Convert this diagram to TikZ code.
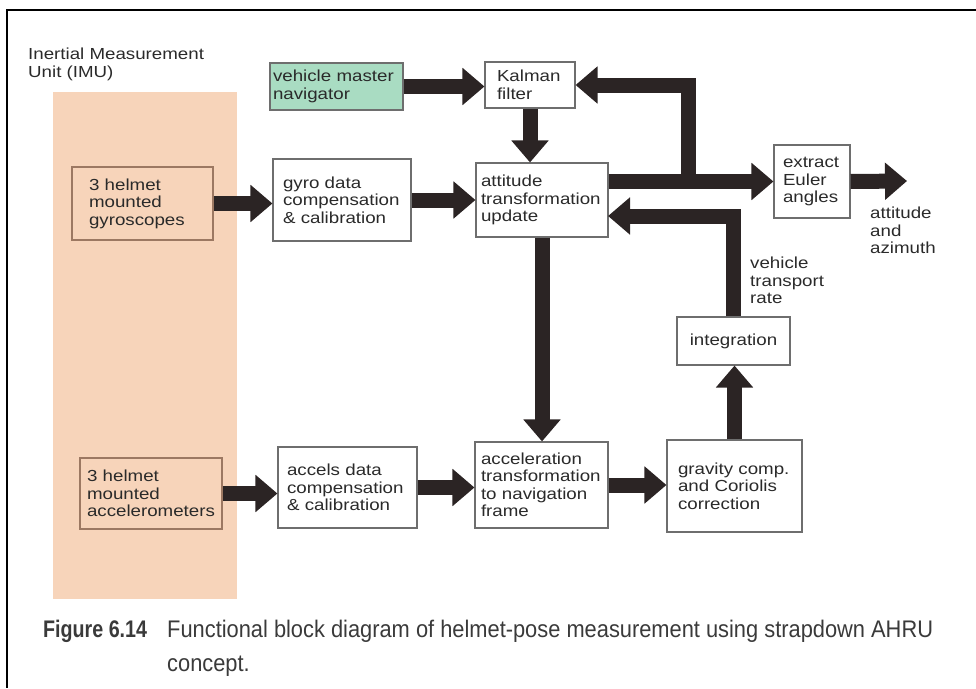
\documentclass[tikz,border=0pt]{standalone}
\usepackage{fontspec}
\setmainfont{Liberation Sans}[FakeStretch=1.17]
\newfontfamily\capfont{Liberation Sans}[FakeStretch=0.91]
\newfontfamily\capbold{Liberation Sans}[FakeStretch=0.82]
\usepackage{tikz}
\usetikzlibrary{arrows.meta}
\definecolor{imufill}{HTML}{F7D4BA}
\definecolor{navfill}{HTML}{A9DCC2}
\definecolor{arrowdark}{HTML}{2B2424}
\definecolor{boxline}{HTML}{6E6E6E}
\definecolor{imuline}{HTML}{9C7862}
\definecolor{inktext}{HTML}{2A2A2A}
\definecolor{captext}{HTML}{3A3A3A}

\begin{document}
\begin{tikzpicture}[x=1pt,y=-1pt,
    blk/.style={draw=boxline,line width=1.1pt,fill=white,align=left,inner ysep=2pt,
      text=inktext,font=\fontsize{16}{17.5}\selectfont},
    imublk/.style={blk,draw=imuline,fill=none},
    fat/.style={draw=arrowdark,line width=15pt,-{Triangle[length=22pt,width=36pt]}},
    lbl/.style={align=left,inner sep=0pt,text=inktext,font=\fontsize{16}{17.5}\selectfont},
    figcap/.style={anchor=north west,align=left,inner sep=0pt,text=captext,
      font=\capfont\fontsize{24}{34}\selectfont}]
      \useasboundingbox (0,0) rectangle (976,688);
      \draw[line width=2pt] (976,10) -- (7,10) -- (7,688);

      % IMU block
      \node (imu) at (145,345.5) [fill=imufill,minimum width=184pt,minimum height=507pt,inner sep=0pt] {};
      \node (imulabel) at (28,48) [lbl,anchor=north west] {Inertial Measurement\\Unit (IMU)};
      \node (gyros) at (142.5,203.5) [imublk,inner xsep=17pt,text width=107pt,minimum height=73pt] {3 helmet\\mounted\\gyroscopes};
      \node (accels) at (151,493.5) [imublk,inner xsep=7pt,text width=128pt,minimum height=71pt] {3 helmet\\mounted\\accelerometers};

      \node (vmn) at (336.5,86.5) [blk,fill=navfill,inner xsep=3pt,text width=127pt,minimum height=47pt] {vehicle master\\navigator};
      \node (kalman) at (530,85) [blk,inner xsep=12pt,text width=66pt,minimum height=46pt] {Kalman\\filter};
      \node (gyrocal) at (342,200) [blk,inner xsep=10pt,text width=118pt,minimum height=82pt] {gyro data\\compensation\\\& calibration};
      \node (att) at (542,200) [blk,inner xsep=5pt,text width=122pt,minimum height=74pt] {attitude\\transformation\\update};
      \node (euler) at (812,181.5) [blk,inner xsep=9pt,text width=58pt,minimum height=73pt] {extract\\Euler\\angles};
      \node (integ) at (733.5,341) [blk,align=center,inner xsep=6pt,text width=101pt,minimum height=48pt] {integration};
      \node (accelcal) at (347.5,487.5) [blk,inner xsep=9pt,text width=121pt,minimum height=81pt] {accels data\\compensation\\\& calibration};
      \node (acctr) at (541.5,485) [blk,inner xsep=6pt,text width=121pt,minimum height=86pt] {acceleration\\transformation\\to navigation\\frame};
      \node (grav) at (734.5,486) [blk,inner xsep=11pt,text width=113pt,minimum height=92pt] {gravity comp.\\and Coriolis\\correction};

      \node (azlabel) at (870,207) [lbl,anchor=north west] {attitude\\and\\azimuth};
      \node (ratelabel) at (750,257) [lbl,anchor=north west] {vehicle\\transport\\rate};

      \coordinate (split) at (688,182);
      \coordinate (azout) at (907,181);
      \coordinate (ratein) at (608,216);

      \draw[fat] (vmn.east) -- (vmn.east -| kalman.west);
      \draw[fat] (kalman.south) -- (kalman.south |- att.north);
      \draw[fat] (gyros.east) -- (gyros.east -| gyrocal.west);
      \draw[fat] (gyrocal.east) -- (gyrocal.east -| att.west);
      \draw[fat] (euler.west -| att.east) -- (euler.west);
      \draw[fat] (split) |- (kalman.east);
      \draw[fat] (euler.east) -- (azout);
      \draw[fat] (att.south) -- (att.south |- acctr.north);
      \draw[fat] (accels.east) -- (accels.east -| accelcal.west);
      \draw[fat] (accelcal.east) -- (accelcal.east -| acctr.west);
      \draw[fat] (acctr.east) -- (acctr.east -| grav.west);
      \draw[fat] (grav.north) -- (grav.north |- integ.south);
      \draw[fat] (integ.north) |- (ratein);

      % caption
      \node (figno) at (43,620) [figcap,font=\capbold\bfseries\fontsize{24}{34}\selectfont] {Figure 6.14};
      \node (figtext) at (167,620) [figcap] {Functional block diagram of helmet-pose measurement using strapdown AHRU\\concept.};
    \end{tikzpicture}
\end{document}
